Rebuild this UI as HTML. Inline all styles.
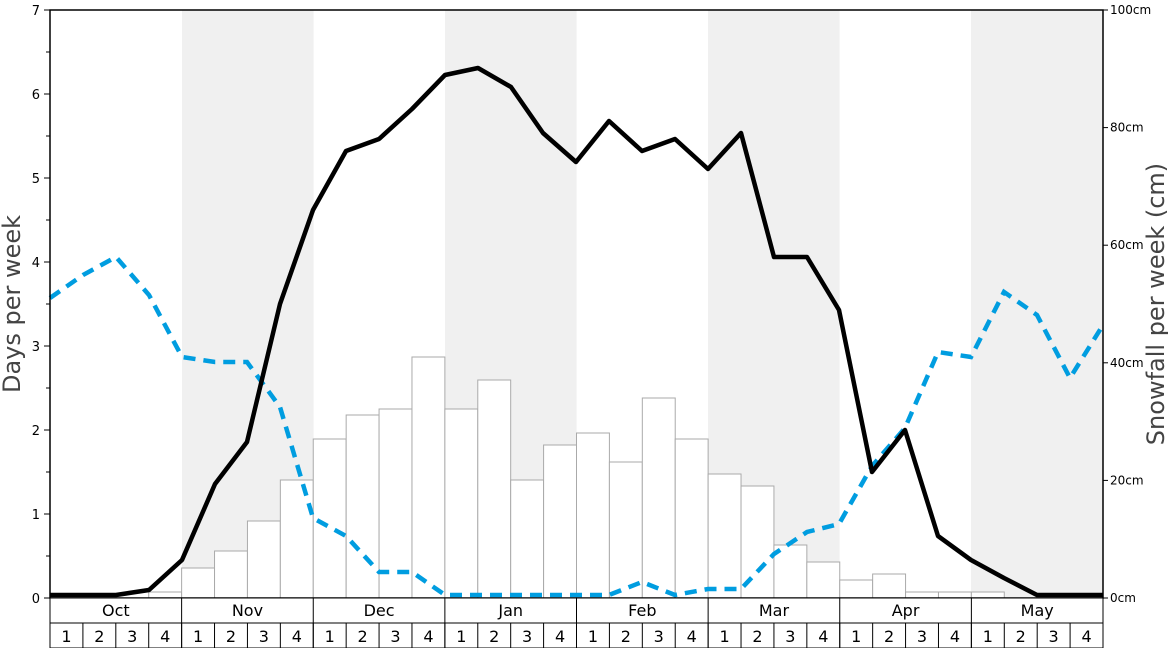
<!DOCTYPE html>
<html><head><style>body{margin:0;background:#fff}svg{display:block;font-family:"DejaVu Sans","Liberation Sans",sans-serif}</style></head>
<body>
<svg width="1168" height="648" viewBox="0 0 1168 648" xmlns="http://www.w3.org/2000/svg">
<rect x="182" y="10" width="131.6" height="588" fill="#f0f0f0"/>
<rect x="445" y="10" width="131.6" height="588" fill="#f0f0f0"/>
<rect x="708" y="10" width="131.6" height="588" fill="#f0f0f0"/>
<rect x="971" y="10" width="132" height="588" fill="#f0f0f0"/>
<g fill="#fff" stroke="#aaa" stroke-width="1" id="bars"></g>
<polyline fill="none" stroke="#009de0" stroke-width="4.5" stroke-dasharray="12,8" points="50,298 83,275 116,257 149,295 182,357 215,362 247,362 280,407 313,518 346,536 379,572 412,572 445,595 478,595 511,595 543,595 576,595 609,595 642,582 675,595 708,589 741,589 774,554 807,532 839,524 872,466 905,428 938,352 971,357 1004,292 1037,315 1070,378 1103,325"/>
<polyline fill="none" stroke="#000" stroke-width="4.5" stroke-linejoin="round" points="50,595 83,595 116,595 149,590 182,560 215,484 247,442 280,304 313,210 346,151 379,139 412,109 445,75 478,68 511,87 543,133 576,162 609,121 642,151 675,139 708,169 741,133 774,257 807,257 839,310 872,472 905,430 938,536 971,560 1004,578 1037,595 1070,595 1103,595"/>
<rect x="50" y="10" width="1053" height="588" fill="none" stroke="#000" stroke-width="1.5"/>
<g font-size="13" text-anchor="end" fill="#000" id="ly"></g>
<g font-size="12" fill="#000" id="ry"></g>
<text transform="translate(20,304) rotate(-90)" font-size="24" fill="#444" text-anchor="middle">Days per week</text>
<text transform="translate(1164,304) rotate(-90)" font-size="24" fill="#444" text-anchor="middle">Snowfall per week (cm)</text>
<g id="bottom" font-size="16" text-anchor="middle" fill="#000"></g>
<script>
var ns="http://www.w3.org/2000/svg",W=1053/32;
function el(p,t,a,tx){var e=document.createElementNS(ns,t);for(var k in a)e.setAttribute(k,a[k]);if(tx!=null)e.textContent=tx;document.getElementById(p).appendChild(e);return e;}
var tops=[598,598,598,592,568,551,521,480,439,415,409,357,409,380,480,445,433,462,398,439,474,486,545,562,580,574,592,592,592,598,598,598];
tops.forEach(function(t,i){if(t<598)el("bars","rect",{x:50+i*W,y:t,width:W,height:598-t});});
for(var v=0;v<=7;v++){var y=598-v*84;el("ly","text",{x:40,y:y+5},v);el("ly","line",{x1:44,x2:50,y1:y,y2:y,stroke:"#000"});if(v<7)el("ly","line",{x1:46,x2:50,y1:y-42,y2:y-42,stroke:"#000"});}
for(var c=0;c<=100;c+=20){var y=598-c*5.88;el("ry","text",{x:1110,y:y+4},c+"cm");el("ry","line",{x1:1103,x2:1108,y1:y,y2:y,stroke:"#000"});}
var m=["Oct","Nov","Dec","Jan","Feb","Mar","Apr","May"];
el("bottom","rect",{x:50,y:598,width:1053,height:50,fill:"#fff",stroke:"#000"});
el("bottom","line",{x1:50,x2:1103,y1:623,y2:623,stroke:"#000"});
for(var i=0;i<8;i++){var x=50+i*4*W;el("bottom","text",{x:x+2*W,y:616},m[i]);el("bottom","line",{x1:x,x2:x,y1:598,y2:648,stroke:"#000"});
for(var w=0;w<4;w++){var xx=x+w*W;el("bottom","text",{x:xx+W/2,y:642},w+1);el("bottom","line",{x1:xx,x2:xx,y1:623,y2:648,stroke:"#000"});}}
el("bottom","line",{x1:1103,x2:1103,y1:598,y2:648,stroke:"#000"});
</script>
</svg>
</body></html>
